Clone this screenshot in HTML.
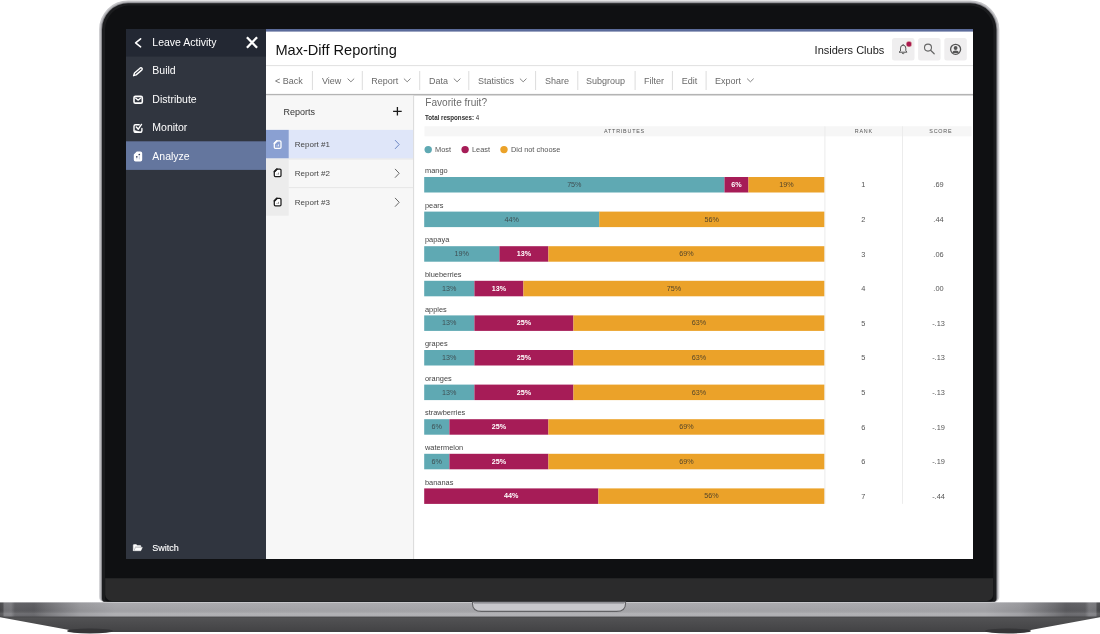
<!DOCTYPE html>
<html lang="en"><head><meta charset="utf-8"><title>Max-Diff Reporting</title>
<style>
html,body{margin:0;padding:0;background:#fff;}
body{width:1100px;height:634px;position:relative;overflow:hidden;font-family:"Liberation Sans",sans-serif;}
.a{position:absolute;}
.t{position:absolute;white-space:nowrap;line-height:1;}
svg{position:absolute;overflow:visible;}
</style></head><body>

<svg width="1100" height="634" viewBox="0 0 1100 634" style="left:0;top:0"><defs><linearGradient id="lg0" x1="0" x2="0" y1="0" y2="1"><stop offset="0" stop-color="#c4c4c7"/><stop offset="0.1" stop-color="#cdcdd0"/><stop offset="1" stop-color="#d0d0d3"/></linearGradient></defs><path d="M128.10 0.40 L970.30 0.40 A29.00 29.00 0 0 1 999.30 29.40 L999.30 597.00 A5.00 5.00 0 0 1 994.30 602.00 L104.10 602.00 A5.00 5.00 0 0 1 99.10 597.00 L99.10 29.40 A29.00 29.00 0 0 1 128.10 0.40 Z" fill="url(#lg0)"/><path d="M128.10 1.70 L970.30 1.70 A27.70 27.70 0 0 1 998.00 29.40 L998.00 597.60 A4.20 4.20 0 0 1 993.80 601.80 L104.60 601.80 A4.20 4.20 0 0 1 100.40 597.60 L100.40 29.40 A27.70 27.70 0 0 1 128.10 1.70 Z" fill="#b0b0b4"/><path d="M128.10 2.50 L970.30 2.50 A26.90 26.90 0 0 1 997.20 29.40 L997.20 598.00 A3.80 3.80 0 0 1 993.40 601.80 L105.00 601.80 A3.80 3.80 0 0 1 101.20 598.00 L101.20 29.40 A26.90 26.90 0 0 1 128.10 2.50 Z" fill="#808085"/><path d="M128.10 3.30 L970.30 3.30 A26.10 26.10 0 0 1 996.40 29.40 L996.40 598.40 A3.40 3.40 0 0 1 993.00 601.80 L105.40 601.80 A3.40 3.40 0 0 1 102.00 598.40 L102.00 29.40 A26.10 26.10 0 0 1 128.10 3.30 Z" fill="#1b1c1e"/><path d="M129.00 5.60 L969.40 5.60 A24.00 24.00 0 0 1 993.40 29.60 L993.40 598.50 A3.00 3.00 0 0 1 990.40 601.50 L108.00 601.50 A3.00 3.00 0 0 1 105.00 598.50 L105.00 29.60 A24.00 24.00 0 0 1 129.00 5.60 Z" fill="#0f1012"/><path d="M105.21 578.20 L993.19 578.20 A0.01 0.01 0 0 1 993.20 578.21 L993.20 594.50 A6.50 6.50 0 0 1 986.70 601.00 L111.70 601.00 A6.50 6.50 0 0 1 105.20 594.50 L105.20 578.21 A0.01 0.01 0 0 1 105.21 578.20 Z" fill="#2b2b2c"/></svg>
<svg width="1100" height="634" viewBox="0 0 1100 634" style="left:0;top:0">
<defs>
<linearGradient id="bg1" x1="0" x2="1" y1="0" y2="0"><stop offset="0.0000" stop-color="#47474a"/><stop offset="0.0023" stop-color="#4d4d50"/><stop offset="0.0041" stop-color="#76767a"/><stop offset="0.0100" stop-color="#7a7a7e"/><stop offset="0.0136" stop-color="#5e5e62"/><stop offset="0.0309" stop-color="#5b5b5f"/><stop offset="0.0418" stop-color="#6d6d71"/><stop offset="0.0727" stop-color="#97979b"/><stop offset="0.1045" stop-color="#a7a7ab"/><stop offset="0.4991" stop-color="#a9a9ad"/><stop offset="0.5009" stop-color="#a9a9ad"/><stop offset="0.8955" stop-color="#a7a7ab"/><stop offset="0.9273" stop-color="#97979b"/><stop offset="0.9582" stop-color="#6d6d71"/><stop offset="0.9691" stop-color="#5b5b5f"/><stop offset="0.9864" stop-color="#5e5e62"/><stop offset="0.9900" stop-color="#7a7a7e"/><stop offset="0.9959" stop-color="#76767a"/><stop offset="0.9977" stop-color="#4d4d50"/><stop offset="1.0000" stop-color="#47474a"/></linearGradient>
<linearGradient id="bg2" x1="0" x2="0" y1="0" y2="1">
<stop offset="0" stop-color="#dcdce0" stop-opacity="0.7"/><stop offset="0.1" stop-color="#fff" stop-opacity="0.03"/><stop offset="0.55" stop-color="#000" stop-opacity="0.03"/><stop offset="0.8" stop-color="#fff" stop-opacity="0.12"/><stop offset="1" stop-color="#fff" stop-opacity="0.05"/>
</linearGradient>
<linearGradient id="bg3" x1="0" x2="0" y1="0" y2="1">
<stop offset="0" stop-color="#3a3a3c"/><stop offset="0.12" stop-color="#525254"/><stop offset="1" stop-color="#424244"/>
</linearGradient>
</defs>
<path d="M0 616 L1100 616 L1100 617.3 L1032 629.8 Q1024 631.6 1010 632 L90 632 Q76 631.6 68 629.8 L0 617.3 Z" fill="url(#bg3)"/>
<ellipse cx="90" cy="631" rx="23" ry="2.4" fill="#353537"/><ellipse cx="1008" cy="631" rx="23" ry="2.4" fill="#353537"/>
<rect x="0" y="602" width="1100" height="14.6" fill="url(#bg1)"/>
<rect x="0" y="602" width="1100" height="14.6" fill="url(#bg2)"/>
<path d="M472.5 602 L625.5 602 L625.5 604 Q625.5 611.4 616.5 611.4 L481.5 611.4 Q472.5 611.4 472.5 604 Z" fill="#c8c8cc" stroke="#626265" stroke-width="1.1"/>
<path d="M474 602.3 L624 602.3 L624 604 L474 604 Z" fill="#8e8e92" opacity="0.6"/>
</svg>
<div class="a" id="screen" style="left:126px;top:29px;width:847px;height:530px;background:#fff;overflow:hidden;">
<svg width="1100" height="634" viewBox="0 0 1100 634" style="left:-126px;top:-29px" shape-rendering="geometricPrecision"><rect x="126.00" y="29.00" width="140.00" height="530.00" fill="#30353f"/><rect x="126.00" y="29.00" width="140.00" height="27.60" fill="#232833"/><rect x="126.00" y="141.30" width="140.00" height="28.60" fill="#64769e"/><rect x="266.00" y="29.00" width="707.00" height="2.60" fill="#5b6b9a"/><rect x="892.00" y="38.00" width="22.50" height="22.60" fill="#efeeef" rx="2.5"/><rect x="918.10" y="38.00" width="22.50" height="22.60" fill="#efeeef" rx="2.5"/><rect x="944.30" y="38.00" width="22.50" height="22.60" fill="#efeeef" rx="2.5"/><rect x="266.00" y="65.10" width="707.00" height="1.00" fill="#e0e0e0"/><rect x="311.90" y="71.00" width="1.00" height="19.00" fill="#dcdcdc"/><rect x="361.80" y="71.00" width="1.00" height="19.00" fill="#dcdcdc"/><rect x="419.20" y="71.00" width="1.00" height="19.00" fill="#dcdcdc"/><rect x="468.30" y="71.00" width="1.00" height="19.00" fill="#dcdcdc"/><rect x="535.10" y="71.00" width="1.00" height="19.00" fill="#dcdcdc"/><rect x="577.30" y="71.00" width="1.00" height="19.00" fill="#dcdcdc"/><rect x="634.60" y="71.00" width="1.00" height="19.00" fill="#dcdcdc"/><rect x="671.90" y="71.00" width="1.00" height="19.00" fill="#dcdcdc"/><rect x="705.60" y="71.00" width="1.00" height="19.00" fill="#dcdcdc"/><rect x="266.00" y="93.90" width="707.00" height="1.60" fill="#b4b4b4"/><rect x="266.00" y="95.50" width="147.20" height="463.50" fill="#f7f7f7"/><rect x="413.10" y="95.50" width="1.00" height="463.50" fill="#dadada"/><rect x="266.00" y="129.90" width="147.10" height="28.60" fill="#dfe6f9"/><rect x="266.00" y="129.90" width="22.70" height="28.60" fill="#8aa0d2"/><rect x="266.00" y="158.50" width="22.70" height="28.60" fill="#ececec"/><rect x="288.70" y="158.50" width="124.40" height="1.00" fill="#e6e6e6"/><rect x="266.00" y="187.10" width="22.70" height="28.60" fill="#ececec"/><rect x="288.70" y="187.10" width="124.40" height="1.00" fill="#e6e6e6"/><rect x="424.50" y="126.30" width="547.00" height="10.00" fill="#f6f6f6"/><rect x="824.40" y="126.30" width="1.00" height="377.50" fill="#ececec"/><rect x="902.00" y="126.30" width="1.00" height="377.50" fill="#ececec"/><circle cx="428.20" cy="149.60" r="3.70" fill="#5fa9b3"/><circle cx="465.10" cy="149.60" r="3.70" fill="#a61c57"/><circle cx="504.00" cy="149.60" r="3.70" fill="#eba229"/><rect x="424.20" y="177.00" width="300.28" height="15.50" fill="#5fa9b3"/><rect x="724.48" y="177.00" width="24.01" height="15.50" fill="#a61c57"/><rect x="748.48" y="177.00" width="75.82" height="15.50" fill="#eba229"/><rect x="424.20" y="211.60" width="175.24" height="15.50" fill="#5fa9b3"/><rect x="599.24" y="211.60" width="225.06" height="15.50" fill="#eba229"/><rect x="424.20" y="246.20" width="75.22" height="15.50" fill="#5fa9b3"/><rect x="499.42" y="246.20" width="49.01" height="15.50" fill="#a61c57"/><rect x="548.43" y="246.20" width="275.87" height="15.50" fill="#eba229"/><rect x="424.20" y="280.80" width="50.21" height="15.50" fill="#5fa9b3"/><rect x="474.41" y="280.80" width="49.01" height="15.50" fill="#a61c57"/><rect x="523.43" y="280.80" width="300.87" height="15.50" fill="#eba229"/><rect x="424.20" y="315.40" width="50.21" height="15.50" fill="#5fa9b3"/><rect x="474.41" y="315.40" width="99.03" height="15.50" fill="#a61c57"/><rect x="573.44" y="315.40" width="250.86" height="15.50" fill="#eba229"/><rect x="424.20" y="350.00" width="50.21" height="15.50" fill="#5fa9b3"/><rect x="474.41" y="350.00" width="99.03" height="15.50" fill="#a61c57"/><rect x="573.44" y="350.00" width="250.86" height="15.50" fill="#eba229"/><rect x="424.20" y="384.60" width="50.21" height="15.50" fill="#5fa9b3"/><rect x="474.41" y="384.60" width="99.03" height="15.50" fill="#a61c57"/><rect x="573.44" y="384.60" width="250.86" height="15.50" fill="#eba229"/><rect x="424.20" y="419.20" width="25.21" height="15.50" fill="#5fa9b3"/><rect x="449.41" y="419.20" width="99.03" height="15.50" fill="#a61c57"/><rect x="548.43" y="419.20" width="275.87" height="15.50" fill="#eba229"/><rect x="424.20" y="453.80" width="25.21" height="15.50" fill="#5fa9b3"/><rect x="449.41" y="453.80" width="99.03" height="15.50" fill="#a61c57"/><rect x="548.43" y="453.80" width="275.87" height="15.50" fill="#eba229"/><rect x="424.20" y="488.40" width="174.24" height="15.50" fill="#a61c57"/><rect x="598.44" y="488.40" width="225.86" height="15.50" fill="#eba229"/></svg>
<div class="t" style="top:8px;font-size:10.5px;color:#fff;left:26.30px;">Leave Activity</div>
<div class="t" style="top:36px;font-size:10.5px;color:#fff;left:26.30px;">Build</div>
<div class="t" style="top:65px;font-size:10.5px;color:#fff;left:26.30px;">Distribute</div>
<div class="t" style="top:93px;font-size:10.5px;color:#fff;left:26.30px;">Monitor</div>
<div class="t" style="top:122px;font-size:10.5px;color:#fff;left:26.30px;">Analyze</div>
<div class="t" style="top:515px;font-size:9px;color:#fff;left:26.30px;-webkit-text-stroke:0.12px #fff;">Switch</div>
<div class="t" style="top:14px;font-size:14.6px;color:#111;left:149.40px;">Max-Diff Reporting</div>
<div class="t" style="top:16px;font-size:11px;color:#1a1a1a;left:558.30px;width:200px;text-align:right;">Insiders Clubs</div>
<div class="t" style="top:48px;font-size:9px;color:#6a6a6a;left:149.00px;">&lt; Back</div>
<div class="t" style="top:48px;font-size:9px;color:#6a6a6a;left:196.00px;">View</div>
<div class="t" style="top:48px;font-size:9px;color:#6a6a6a;left:245.20px;">Report</div>
<div class="t" style="top:48px;font-size:9px;color:#6a6a6a;left:303.10px;">Data</div>
<div class="t" style="top:48px;font-size:9px;color:#6a6a6a;left:352.00px;">Statistics</div>
<div class="t" style="top:48px;font-size:9px;color:#6a6a6a;left:419.00px;">Share</div>
<div class="t" style="top:48px;font-size:9px;color:#6a6a6a;left:460.00px;">Subgroup</div>
<div class="t" style="top:48px;font-size:9px;color:#6a6a6a;left:517.90px;">Filter</div>
<div class="t" style="top:48px;font-size:9px;color:#6a6a6a;left:555.70px;">Edit</div>
<div class="t" style="top:48px;font-size:9px;color:#6a6a6a;left:589.00px;">Export</div>
<div class="t" style="top:79px;font-size:9px;color:#333;left:157.50px;">Reports</div>
<div class="t" style="top:112px;font-size:8px;color:#444;left:168.80px;">Report #1</div>
<div class="t" style="top:141px;font-size:8px;color:#444;left:168.80px;">Report #2</div>
<div class="t" style="top:170px;font-size:8px;color:#444;left:168.80px;">Report #3</div>
<div class="t" style="top:69px;font-size:10.1px;color:#6c6c6c;left:299.30px;">Favorite fruit?</div>
<div class="t" style="top:85px;font-size:7.2px;color:#2e2e2e;left:299.30px;transform:scaleX(0.86);transform-origin:0 0;"><b>Total responses:</b> 4</div>
<div class="t" style="top:100px;font-size:5.4px;color:#555;left:398.50px;width:200px;text-align:center;letter-spacing:0.78px;">ATTRIBUTES</div>
<div class="t" style="top:100px;font-size:5.4px;color:#555;left:637.80px;width:200px;text-align:center;letter-spacing:0.78px;">RANK</div>
<div class="t" style="top:100px;font-size:5.4px;color:#555;left:714.80px;width:200px;text-align:center;letter-spacing:0.78px;">SCORE</div>
<div class="t" style="top:117px;font-size:7.4px;color:#555;left:309.00px;">Most</div>
<div class="t" style="top:117px;font-size:7.4px;color:#555;left:346.00px;">Least</div>
<div class="t" style="top:117px;font-size:7.4px;color:#555;left:385.00px;">Did not choose</div>
<div class="t" style="top:138px;font-size:7.4px;color:#444;left:299.00px;">mango</div>
<div class="t" style="top:152px;font-size:7.2px;color:#3f4f53;left:348.34px;width:200px;text-align:center;">75%</div>
<div class="t" style="top:152px;font-size:7.2px;color:#fff;left:510.48px;width:200px;text-align:center;font-weight:bold;">6%</div>
<div class="t" style="top:152px;font-size:7.2px;color:#54452a;left:560.39px;width:200px;text-align:center;">19%</div>
<div class="t" style="top:152px;font-size:7.4px;color:#555;left:637.20px;width:200px;text-align:center;">1</div>
<div class="t" style="top:152px;font-size:7.4px;color:#555;left:712.50px;width:200px;text-align:center;">.69</div>
<div class="t" style="top:173px;font-size:7.4px;color:#444;left:299.00px;">pears</div>
<div class="t" style="top:187px;font-size:7.2px;color:#3f4f53;left:285.82px;width:200px;text-align:center;">44%</div>
<div class="t" style="top:187px;font-size:7.2px;color:#54452a;left:485.77px;width:200px;text-align:center;">56%</div>
<div class="t" style="top:187px;font-size:7.4px;color:#555;left:637.20px;width:200px;text-align:center;">2</div>
<div class="t" style="top:187px;font-size:7.4px;color:#555;left:712.50px;width:200px;text-align:center;">.44</div>
<div class="t" style="top:207px;font-size:7.4px;color:#444;left:299.00px;">papaya</div>
<div class="t" style="top:221px;font-size:7.2px;color:#3f4f53;left:235.81px;width:200px;text-align:center;">19%</div>
<div class="t" style="top:221px;font-size:7.2px;color:#fff;left:297.93px;width:200px;text-align:center;font-weight:bold;">13%</div>
<div class="t" style="top:221px;font-size:7.2px;color:#54452a;left:460.37px;width:200px;text-align:center;">69%</div>
<div class="t" style="top:222px;font-size:7.4px;color:#555;left:637.20px;width:200px;text-align:center;">3</div>
<div class="t" style="top:222px;font-size:7.4px;color:#555;left:712.50px;width:200px;text-align:center;">.06</div>
<div class="t" style="top:242px;font-size:7.4px;color:#444;left:299.00px;">blueberries</div>
<div class="t" style="top:256px;font-size:7.2px;color:#3f4f53;left:223.31px;width:200px;text-align:center;">13%</div>
<div class="t" style="top:256px;font-size:7.2px;color:#fff;left:272.92px;width:200px;text-align:center;font-weight:bold;">13%</div>
<div class="t" style="top:256px;font-size:7.2px;color:#54452a;left:447.86px;width:200px;text-align:center;">75%</div>
<div class="t" style="top:256px;font-size:7.4px;color:#555;left:637.20px;width:200px;text-align:center;">4</div>
<div class="t" style="top:256px;font-size:7.4px;color:#555;left:712.50px;width:200px;text-align:center;">.00</div>
<div class="t" style="top:277px;font-size:7.4px;color:#444;left:299.00px;">apples</div>
<div class="t" style="top:290px;font-size:7.2px;color:#3f4f53;left:223.31px;width:200px;text-align:center;">13%</div>
<div class="t" style="top:290px;font-size:7.2px;color:#fff;left:297.92px;width:200px;text-align:center;font-weight:bold;">25%</div>
<div class="t" style="top:290px;font-size:7.2px;color:#54452a;left:472.87px;width:200px;text-align:center;">63%</div>
<div class="t" style="top:291px;font-size:7.4px;color:#555;left:637.20px;width:200px;text-align:center;">5</div>
<div class="t" style="top:291px;font-size:7.4px;color:#555;left:712.50px;width:200px;text-align:center;">-.13</div>
<div class="t" style="top:311px;font-size:7.4px;color:#444;left:299.00px;">grapes</div>
<div class="t" style="top:325px;font-size:7.2px;color:#3f4f53;left:223.31px;width:200px;text-align:center;">13%</div>
<div class="t" style="top:325px;font-size:7.2px;color:#fff;left:297.92px;width:200px;text-align:center;font-weight:bold;">25%</div>
<div class="t" style="top:325px;font-size:7.2px;color:#54452a;left:472.87px;width:200px;text-align:center;">63%</div>
<div class="t" style="top:325px;font-size:7.4px;color:#555;left:637.20px;width:200px;text-align:center;">5</div>
<div class="t" style="top:325px;font-size:7.4px;color:#555;left:712.50px;width:200px;text-align:center;">-.13</div>
<div class="t" style="top:346px;font-size:7.4px;color:#444;left:299.00px;">oranges</div>
<div class="t" style="top:360px;font-size:7.2px;color:#3f4f53;left:223.31px;width:200px;text-align:center;">13%</div>
<div class="t" style="top:360px;font-size:7.2px;color:#fff;left:297.92px;width:200px;text-align:center;font-weight:bold;">25%</div>
<div class="t" style="top:360px;font-size:7.2px;color:#54452a;left:472.87px;width:200px;text-align:center;">63%</div>
<div class="t" style="top:360px;font-size:7.4px;color:#555;left:637.20px;width:200px;text-align:center;">5</div>
<div class="t" style="top:360px;font-size:7.4px;color:#555;left:712.50px;width:200px;text-align:center;">-.13</div>
<div class="t" style="top:380px;font-size:7.4px;color:#444;left:299.00px;">strawberries</div>
<div class="t" style="top:394px;font-size:7.2px;color:#3f4f53;left:210.80px;width:200px;text-align:center;">6%</div>
<div class="t" style="top:394px;font-size:7.2px;color:#fff;left:272.92px;width:200px;text-align:center;font-weight:bold;">25%</div>
<div class="t" style="top:394px;font-size:7.2px;color:#54452a;left:460.37px;width:200px;text-align:center;">69%</div>
<div class="t" style="top:395px;font-size:7.4px;color:#555;left:637.20px;width:200px;text-align:center;">6</div>
<div class="t" style="top:395px;font-size:7.4px;color:#555;left:712.50px;width:200px;text-align:center;">-.19</div>
<div class="t" style="top:415px;font-size:7.4px;color:#444;left:299.00px;">watermelon</div>
<div class="t" style="top:429px;font-size:7.2px;color:#3f4f53;left:210.80px;width:200px;text-align:center;">6%</div>
<div class="t" style="top:429px;font-size:7.2px;color:#fff;left:272.92px;width:200px;text-align:center;font-weight:bold;">25%</div>
<div class="t" style="top:429px;font-size:7.2px;color:#54452a;left:460.37px;width:200px;text-align:center;">69%</div>
<div class="t" style="top:429px;font-size:7.4px;color:#555;left:637.20px;width:200px;text-align:center;">6</div>
<div class="t" style="top:429px;font-size:7.4px;color:#555;left:712.50px;width:200px;text-align:center;">-.19</div>
<div class="t" style="top:450px;font-size:7.4px;color:#444;left:299.00px;">bananas</div>
<div class="t" style="top:463px;font-size:7.2px;color:#fff;left:285.32px;width:200px;text-align:center;font-weight:bold;">44%</div>
<div class="t" style="top:463px;font-size:7.2px;color:#54452a;left:485.37px;width:200px;text-align:center;">56%</div>
<div class="t" style="top:464px;font-size:7.4px;color:#555;left:637.20px;width:200px;text-align:center;">7</div>
<div class="t" style="top:464px;font-size:7.4px;color:#555;left:712.50px;width:200px;text-align:center;">-.44</div>
<svg width="1100" height="634" viewBox="0 0 1100 634" style="left:-126px;top:-29px" fill="none" stroke-linecap="round" stroke-linejoin="round">
<!-- sidebar back chevron -->
<path d="M140.6 38.8 L135.6 42.8 L140.6 46.8" stroke="#fff" stroke-width="1.6"/>
<!-- close X -->
<path d="M246.9 37.2 L257.1 47.8 M257.1 37.2 L246.9 47.8" stroke="#fff" stroke-width="2.3" stroke-linecap="butt"/>
<!-- pencil (Build) -->
<path d="M133.6 75.7 L134.5 72.95 L140.3 67.95 A1.25 1.25 0 0 1 141.9 69.85 L136.1 74.85 Z" stroke="#fff" stroke-width="1.4"/>
<!-- envelope (Distribute) -->
<rect x="134" y="96.4" width="8.3" height="6.7" rx="1.4" stroke="#fff" stroke-width="1.6"/>
<path d="M135.6 98.1 L138.15 100.2 L140.7 98.1" stroke="#fff" stroke-width="1.3"/>
<!-- monitor -->
<path d="M139.2 124.7 L135.5 124.7 Q134 124.7 134 126.2 L134 130.8 Q134 132.3 135.5 132.3 L140.4 132.3 Q141.9 132.3 141.9 130.8 L141.9 128.4" stroke="#fff" stroke-width="1.4"/>
<path d="M136.3 127 L138.3 129.2 L141.5 124.4" stroke="#fff" stroke-width="1.4"/>
<path d="M134.6 130.3 L141.4 132.4 L134.8 132.4 Z" fill="#fff" stroke="#fff" stroke-width="0.4"/>
<!-- analyze doc -->
<path d="M137 152.2 L140.4 152.2 Q141.5 152.2 141.5 153.3 L141.5 159.7 Q141.5 160.8 140.4 160.8 L135.6 160.8 Q134.5 160.8 134.5 159.7 L134.5 154.7 Z" fill="#fff" stroke="#fff" stroke-width="1.4"/>
<circle cx="139.3" cy="154.5" r="0.85" fill="#3a4460"/>
<circle cx="136.8" cy="156.8" r="0.85" fill="#3a4460"/>
<path d="M136.8 158.2 L136.8 159.4 M139.3 156.2 L139.3 159.4" stroke="#c3cbe0" stroke-width="1" stroke-linecap="butt"/>
<!-- folder (Switch) -->
<path d="M133.3 550.6 L133.3 545.2 Q133.3 544.6 133.9 544.6 L136.3 544.6 L137.2 545.6 L140.3 545.6 Q140.9 545.6 140.9 546.2 L140.9 546.8 L135.2 546.8 L133.6 550.6 Z" fill="#fff" stroke="#fff" stroke-width="0.5"/>
<path d="M135.6 547.4 L142.3 547.4 L140.8 550.7 L134.1 550.7 Z" fill="#fff" stroke="#fff" stroke-width="0.5"/>
<!-- toolbar chevrons -->
<g stroke="#777" stroke-width="0.9">
<path d="M347.9 78.9 L350.9 81.8 L353.9 78.9"/>
<path d="M404.2 78.9 L407.2 81.8 L410.2 78.9"/>
<path d="M454.1 78.9 L457.1 81.8 L460.1 78.9"/>
<path d="M520.2 78.9 L523.2 81.8 L526.2 78.9"/>
<path d="M747.4 78.9 L750.4 81.8 L753.4 78.9"/>
</g>
<!-- plus -->
<path d="M397.4 107 L397.4 115.6 M393.1 111.3 L401.7 111.3" stroke="#1a1a1a" stroke-width="1.3" stroke-linecap="butt"/>
<!-- report row chevrons -->
<path d="M395.3 140.4 L399.2 144.5 L395.3 148.6" stroke="#6c87c4" stroke-width="1"/>
<path d="M395.3 169.2 L399.2 173.3 L395.3 177.4" stroke="#666" stroke-width="1"/>
<path d="M395.3 198.2 L399.2 202.3 L395.3 206.4" stroke="#666" stroke-width="1"/>
<!-- report doc icons -->
<g stroke="#fff" stroke-width="1.25" transform="translate(0,0.2)">
<path d="M277 140.6 L279.9 140.6 Q281 140.6 281 141.7 L281 147 Q281 148.1 279.9 148.1 L275.4 148.1 Q274.3 148.1 274.3 147 L274.3 143.3 Z" fill="none"/>
<path d="M274.4 143.2 L276.9 140.7" stroke-width="1.7"/>
<path d="M277 146.2 L277 145.2 M278.5 146.2 L278.5 144.2" stroke="#e8edf8" stroke-width="0.9" stroke-linecap="butt"/>
</g>
<g stroke="#1d1d1d" stroke-width="1.25" transform="translate(0,28.4)">
<path d="M277 140.6 L279.9 140.6 Q281 140.6 281 141.7 L281 147 Q281 148.1 279.9 148.1 L275.4 148.1 Q274.3 148.1 274.3 147 L274.3 143.3 Z" fill="#fff"/>
<path d="M274.4 143.2 L276.9 140.7" stroke-width="1.7"/>
<path d="M277 146.2 L277 145.2 M278.5 146.2 L278.5 144.2" stroke="#8a8a8a" stroke-width="0.9" stroke-linecap="butt"/>
</g>
<g stroke="#1d1d1d" stroke-width="1.25" transform="translate(0,57.7)">
<path d="M277 140.6 L279.9 140.6 Q281 140.6 281 141.7 L281 147 Q281 148.1 279.9 148.1 L275.4 148.1 Q274.3 148.1 274.3 147 L274.3 143.3 Z" fill="#fff"/>
<path d="M274.4 143.2 L276.9 140.7" stroke-width="1.7"/>
<path d="M277 146.2 L277 145.2 M278.5 146.2 L278.5 144.2" stroke="#8a8a8a" stroke-width="0.9" stroke-linecap="butt"/>
</g>
<!-- bell -->
<path d="M899.4 52.2 L906.9 52.2 L905.8 50.6 L905.8 48.1 Q905.8 45.2 903.15 45.2 Q900.5 45.2 900.5 48.1 L900.5 50.6 Z" stroke="#555" stroke-width="1"/>
<path d="M902.2 53.4 Q903.15 54.4 904.1 53.4" stroke="#555" stroke-width="0.9"/>
<path d="M903.15 44.5 L903.15 45" stroke="#555" stroke-width="1"/>
<circle cx="909" cy="44.1" r="2.9" fill="#a8174f" stroke="#f3e2c8" stroke-width="0.5"/>
<!-- search -->
<circle cx="928" cy="47.6" r="3.5" stroke="#666" stroke-width="1.1"/>
<path d="M930.6 50.3 L934.2 53.8" stroke="#666" stroke-width="1.2"/>
<!-- user -->
<circle cx="955.6" cy="49.3" r="5" stroke="#555" stroke-width="1.3"/>
<circle cx="955.6" cy="48" r="1.9" fill="#555"/>
<path d="M952.4 53 Q952.6 50.6 955.6 50.6 Q958.6 50.6 958.8 53 Z" fill="#555"/>
</svg>

</div>
</body></html>
